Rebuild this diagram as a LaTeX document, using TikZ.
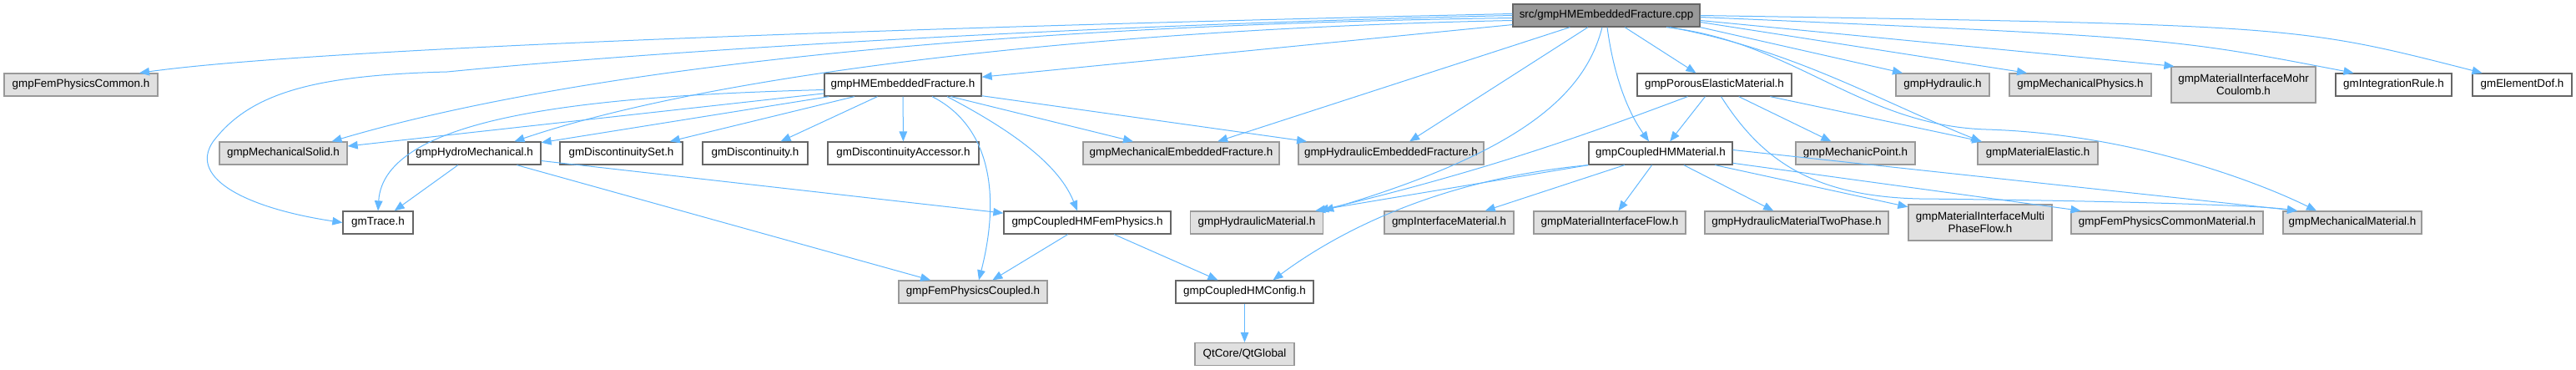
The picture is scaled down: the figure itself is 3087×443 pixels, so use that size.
\documentclass[tikz,border=0pt]{standalone}
\usepackage{fontspec}
\setmainfont{Liberation Sans}
\usetikzlibrary{arrows.meta}
\definecolor{edgeblue}{HTML}{63B8FF}
\definecolor{boxgray}{HTML}{E0E0E0}
\definecolor{linegray}{HTML}{999999}
\definecolor{darkline}{HTML}{666666}
\tikzstyle{hfile}=[rectangle, draw=darkline, fill=white, line width=0.65pt, minimum height=13.5pt, inner sep=0pt, font=\fontsize{6.7}{7.7}\selectfont, align=center]
\tikzstyle{extfile}=[hfile, draw=linegray, fill=boxgray]
\tikzstyle{srcfile}=[hfile, fill=linegray]
\tikzstyle{dep}=[draw=edgeblue, line width=0.5pt, -{Triangle[length=6pt,width=4.8pt]}]
\tikzset{bw/.style={minimum width=#1*0.5pt}}

\begin{document}
\begin{tikzpicture}[x=0.5pt,y=-0.5pt]
	\useasboundingbox (0,0) rectangle (3087,443);

	\node[srcfile, bw=224] (src) at (1925,18.5) {src/gmpHMEmbeddedFracture.cpp};
	% row 1
	\node[extfile, bw=184] (femcommon) at (97,101.5) {gmpFemPhysicsCommon.h};
	\node[hfile, bw=188] (hmef) at (1082,101.5) {gmpHMEmbeddedFracture.h};
	\node[hfile, bw=185] (porous) at (2054.5,101.5) {gmpPorousElasticMaterial.h};
	\node[extfile, bw=112] (hydraulic) at (2328,101.5) {gmpHydraulic.h};
	\node[extfile, bw=170] (mechphys) at (2493,101.5) {gmpMechanicalPhysics.h};
	\node[extfile, bw=173, minimum height=21.5pt] (mohr) at (2688.5,101.5) {gmpMaterialInterfaceMohr\\Coulomb.h};
	\node[hfile, bw=139] (intrule) at (2868.5,101.5) {gmIntegrationRule.h};
	\node[hfile, bw=119] (elemdof) at (3022.5,101.5) {gmElementDof.h};
	% row 2
	\node[extfile, bw=153] (mechsolid) at (339.5,183.5) {gmpMechanicalSolid.h};
	\node[hfile, bw=159] (hydromech) at (568.5,183.5) {gmpHydroMechanical.h};
	\node[hfile, bw=147] (discset) at (744.5,183.5) {gmDiscontinuitySet.h};
	\node[hfile, bw=126] (disc) at (905,183.5) {gmDiscontinuity.h};
	\node[hfile, bw=181] (discacc) at (1082.5,183.5) {gmDiscontinuityAccessor.h};
	\node[extfile, bw=235] (mechef) at (1415.5,183.5) {gmpMechanicalEmbeddedFracture.h};
	\node[extfile, bw=222] (hydef) at (1667,183.5) {gmpHydraulicEmbeddedFracture.h};
	\node[hfile, bw=172] (hmmat) at (1990,183.5) {gmpCoupledHMMaterial.h};
	\node[extfile, bw=143] (mechpoint) at (2223.5,183.5) {gmpMechanicPoint.h};
	\node[extfile, bw=144] (elastic) at (2442,183.5) {gmpMaterialElastic.h};
	% row 3
	\node[hfile, bw=84] (trace) at (453,266.5) {gmTrace.h};
	\node[hfile, bw=200] (hmfem) at (1303,266.5) {gmpCoupledHMFemPhysics.h};
	\node[extfile, bw=159] (hydmat) at (1506,266.5) {gmpHydraulicMaterial.h};
	\node[extfile, bw=155] (ifmat) at (1736.5,266.5) {gmpInterfaceMaterial.h};
	\node[extfile, bw=182] (ifflow) at (1929,266.5) {gmpMaterialInterfaceFlow.h};
	\node[extfile, bw=220] (twophase) at (2153,266.5) {gmpHydraulicMaterialTwoPhase.h};
	\node[extfile, bw=172, minimum height=21.5pt] (multiphase) at (2373,266.5) {gmpMaterialInterfaceMulti\\PhaseFlow.h};
	\node[extfile, bw=230] (commonmat) at (2597,266.5) {gmpFemPhysicsCommonMaterial.h};
	\node[extfile, bw=166] (mechmat) at (2819,266.5) {gmpMechanicalMaterial.h};
	% row 4 and 5
	\node[extfile, bw=178] (femcoupled) at (1166,349.5) {gmpFemPhysicsCoupled.h};
	\node[hfile, bw=165] (hmconfig) at (1491.5,349.5) {gmpCoupledHMConfig.h};
	\node[extfile, bw=119] (qtglobal) at (1491.5,424) {QtCore/QtGlobal};

	% includes of the .cpp
	\draw[dep] ([yshift=1pt]src.west) .. controls (1200,30) and (400,55) .. ([xshift=35pt]femcommon.north);
	\draw[dep] (src.west) .. controls (1300,30) and (800,60) .. (536,86) .. controls (380,90) and (300,110) .. (255,170) .. controls (225,215) and (300,250) .. (trace.west);
	\draw[dep] ([yshift=-1.5pt]src.west) .. controls (1200,30) and (700,80) .. ([xshift=29pt]mechsolid.north);
	\draw[dep] ([yshift=-3pt]src.west) .. controls (1300,35) and (850,90) .. ([xshift=24pt]hydromech.north);
	\draw[dep] (src) -- (hmef);
	\draw[dep] (src) -- (mechef);
	\draw[dep] (src) -- (hydef);
	\draw[dep] ([xshift=-2.5pt]src.south) .. controls (1900,110) and (1830,180) .. (hydmat.north east);
	\draw[dep] ([xshift=0.5pt]src.south) .. controls (1935,100) and (1955,140) .. ([xshift=-7pt]hmmat.north);
	\draw[dep] (src) -- (porous);
	\draw[dep] (src.south east) -- ([xshift=-24pt]hydraulic.north);
	\draw[dep] ([yshift=-4pt]src.east) -- ([xshift=-32pt]mechphys.north);
	\draw[dep] ([yshift=-3pt]src.east) -- ([xshift=2pt]mohr.north west);
	\draw[dep] ([yshift=-1pt]src.east) .. controls (2600,45) .. ([xshift=-24pt]intrule.north);
	\draw[dep] (src.east) .. controls (2750,30) .. ([xshift=-24pt]elemdof.north);
	\draw[dep] ([xshift=38pt]src.south) .. controls (2150,60) and (2250,120) .. ([xshift=-34pt]elastic.north);
	\draw[dep] ([xshift=36pt]src.south) .. controls (2150,50) and (2230,150) .. (2380,155) .. controls (2550,160) and (2700,215) .. ([xshift=-21.5pt]mechmat.north);

	% gmpHMEmbeddedFracture.h
	\draw[dep] (hmef) -- (mechsolid);
	\draw[dep] ([yshift=-3pt]hmef.west) .. controls (700,115) and (460,140) .. (trace.north);
	\draw[dep] (hmef) -- (hydromech);
	\draw[dep] (hmef) -- (discset);
	\draw[dep] (hmef) -- (disc);
	\draw[dep] (hmef) -- (discacc);
	\draw[dep] ([xshift=17.5pt]hmef.south) .. controls (1185,150) and (1200,230) .. ([xshift=3.5pt]femcoupled.north);
	\draw[dep] ([xshift=26.5pt]hmef.south) .. controls (1220,160) and (1270,200) .. ([xshift=-6pt]hmfem.north);
	\draw[dep] (hmef) -- (mechef);
	\draw[dep] (hmef) -- (hydef);

	% gmpHydroMechanical.h and below
	\draw[dep] (hydromech) -- (trace);
	\draw[dep] (hydromech) -- (hmfem);
	\draw[dep] (hydromech) -- (femcoupled);
	\draw[dep] (hmfem) -- (femcoupled);
	\draw[dep] (hmfem) -- (hmconfig);
	\draw[dep] (hmconfig) -- (qtglobal);

	% gmpPorousElasticMaterial.h
	\draw[dep] ([xshift=-16pt]porous.south) .. controls (1930,150) and (1800,200) .. ([xshift=-3pt]hydmat.north east);
	\draw[dep] (porous) -- (hmmat);
	\draw[dep] (porous) -- (mechpoint);
	\draw[dep] (porous) -- (elastic);
	\draw[dep] ([xshift=4pt]porous.south) .. controls (2110,190) and (2170,235) .. (2300,238) .. controls (2500,240) and (2700,245) .. ([xshift=-33pt]mechmat.north);

	% gmpCoupledHMMaterial.h
	\draw[dep] (hmmat.south west) -- ([xshift=-5pt]hydmat.north east);
	\draw[dep] (hmmat.south west) .. controls (1720,215) and (1600,280) .. ([xshift=17pt]hmconfig.north);
	\draw[dep] (hmmat) -- (ifmat);
	\draw[dep] (hmmat) -- (ifflow);
	\draw[dep] (hmmat) -- (twophase);
	\draw[dep] (hmmat) -- (multiphase);
	\draw[dep] (hmmat) -- (commonmat);
	\draw[dep] ([yshift=2pt]hmmat.east) -- ([xshift=-33pt]mechmat.north);

\end{tikzpicture}
\end{document}
